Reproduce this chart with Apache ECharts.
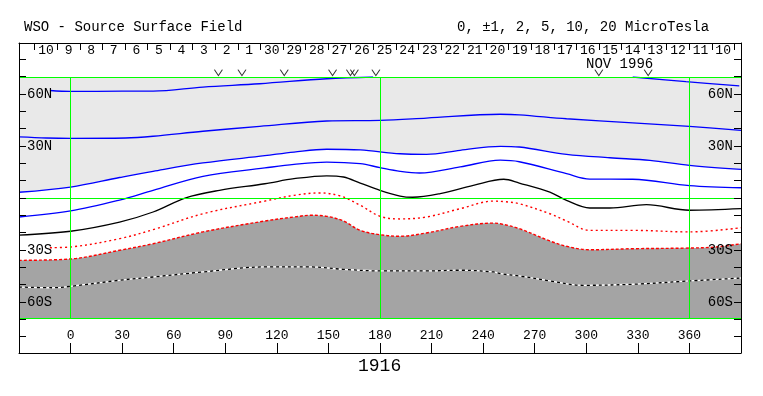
<!DOCTYPE html>
<html><head><meta charset="utf-8">
<script src="https://cdn.jsdelivr.net/npm/echarts@6/dist/echarts.min.js"></script>
<style>html,body{margin:0;padding:0;background:#fff}#c{width:763px;height:396px}</style>
</head><body><div id="c"></div><script>
const FONT = '"Liberation Mono", "DejaVu Sans Mono", monospace';

// Top date axis (Oct 10 .. Nov 10, 1996), day boundaries in Carrington longitude
const dayLabels = ['10','9','8','7','6','5','4','3','2','1','30','29','28','27','26','25','24','23','22','21','20','19','18','17','16','15','14','13','12','11','10'];
const dayTickStartLon = -20.86;
const degPerDay = 13.13;

// Observation markers (V) along the top of the map
const obsLon = [86.0, 99.7, 124.3, 152.4, 162.8, 165.1, 177.6, 307.3, 336.0];

// Latitude ticks and labels
const latTicks = [-80,-70,-60,-50,-40,-30,-20,-10,0,10,20,30,40,50,60,70,80];
const latLabelValues = [-60,-30,30,60];
const latLabelText = {'60':'60N','30':'30N','-30':'30S','-60':'60S'};

// Contour lines [Carrington longitude, latitude]
const blueLine1 = [[-12,62.2],[0,61.7],[30,61.8],[48,61.8],[77,64.2],[110,66.1],[149,69.0],[176,70.0],[250,'-'],[327,70.0],[358,67.3],[389,64.9]];
const blueLine2 = [[-30,35.4],[-14,34.8],[0,34.6],[32,34.8],[48,35.8],[77,38.7],[110,41.5],[149,44.6],[180,45.0],[207,46.3],[250,48.5],[261,48.2],[288.5,45.9],[327,43.5],[360,41.5],[390,39.2]];
const blueLine3 = [[-30,3.5],[0,6.5],[28.5,12.0],[48,15.6],[77,20.4],[113,24.6],[130,26.7],[149,28.3],[168.5,27.9],[191.7,25.7],[207,25.4],[226.6,27.7],[250,30.0],[261,29.6],[288.5,25.4],[313.7,23.4],[337,21.9],[360,19.0],[390,16.7]];
const blueLine4 = [[-30,-10.8],[0,-7.3],[28.5,-1.0],[48,4.6],[77,12.7],[113,17.5],[130,19.6],[149,20.9],[168.5,20.0],[180,17.7],[191.7,15.6],[203,14.6],[226.6,18.1],[250,22.0],[261,21.1],[288.5,14.2],[302,11.1],[327,11.0],[360,7.3],[390,6.1]];
const neutralLine = [[-30,-21.2],[0,-19.0],[28.5,-13.7],[48,-7.9],[67,0.3],[86.6,4.6],[113,8.4],[130,11.3],[149,13.0],[158.8,12.3],[168.5,8.8],[180,4.6],[191.7,1.3],[199,0.6],[215,2.7],[234.3,7.5],[252,11.0],[261,8.8],[278.8,3.6],[288.5,-1.2],[302,-5.6],[313.7,-5.6],[335,-3.7],[360,-6.9],[390,-6.0]];
const redLine1 = [[-12,-28.5],[0,-28.1],[28.5,-23.3],[48,-18.1],[77,-8.9],[113,-1.6],[130,1.7],[145,3.1],[157,1.3],[168.5,-4.0],[180,-10.4],[191.7,-11.9],[207,-10.8],[226.6,-6.0],[246,-1.6],[253,-2.0],[261,-3.1],[278.8,-8.9],[288.5,-13.1],[302,-18.5],[327,-18.5],[360,-19.4],[390,-17.0]];
const redLine2 = [[-30,-35.8],[0,-35.0],[28.5,-30.0],[48,-26.2],[77,-19.4],[113,-13.1],[130,-10.8],[139.4,-9.8],[149,-10.4],[158.8,-13.1],[168.5,-18.5],[180,-21.0],[191.7,-21.9],[207,-20.0],[226.6,-16.2],[246,-14.3],[250,-14.7],[261,-17.5],[278.8,-24.6],[288.5,-27.7],[302,-29.7],[327,-29.1],[360,-28.7],[375.6,-28.1],[390,-26.2]];
const southLine = [[-30,-51.2],[-10.5,-51.6],[0,-50.8],[28.5,-47.3],[48,-45.4],[77,-42.5],[113,-39.6],[139.4,-39.6],[158.8,-41.0],[180,-41.9],[207,-41.9],[226.6,-41.5],[246,-42.5],[250,-43.5],[261,-44.8],[278.8,-47.7],[298,-50.2],[327,-49.6],[360,-47.7],[390,-46.0]];

const dayTicks = [];
for (let j = 0; j <= dayLabels.length; j++) dayTicks.push(dayTickStartLon + j * degPerDay);
const dayCenters = dayLabels.map((_, j) => dayTickStartLon + (j + 0.5) * degPerDay);

const chart = echarts.init(document.getElementById('c'), null, {renderer: 'canvas'});
const txt = {fontFamily: FONT, color: '#000', fontWeight: 'normal'};
const AX_Z = 10;

function latAxis(pos) {
  return {
    type: 'value', gridIndex: 0, position: pos, min: -89.4, max: 89.4, z: AX_Z,
    axisLine: {show: true, onZero: false, lineStyle: {color: '#000', width: 1}},
    axisTick: {show: true, inside: true, length: 7, customValues: latTicks, lineStyle: {color: '#000'}},
    axisLabel: {show: true, inside: true, margin: 8, customValues: latLabelValues,
      formatter: v => latLabelText[String(Math.round(v))] || '', ...txt, fontSize: 14},
    splitLine: {show: false}
  };
}

const smoothK = 0.35;
function contour(data, color, width, type, extra) {
  return Object.assign({
    type: 'line', xAxisIndex: 2, yAxisIndex: 2, data: data, symbol: 'none',
    smooth: smoothK, connectNulls: false, silent: true, animation: false,
    lineStyle: {color: color, width: width, type: type}
  }, extra || {});
}

const option = {
  animation: false,
  backgroundColor: '#fff',
  title: [
    {text: 'WSO - Source Surface Field', left: 24, top: 20, padding: 0, textStyle: {...txt, fontSize: 14}},
    {text: '0, \u00b11, 2, 5, 10, 20 MicroTesla', left: 457, top: 20, padding: 0, textStyle: {...txt, fontSize: 14}},
    {text: 'NOV 1996', left: 586, top: 57, padding: 0, textStyle: {...txt, fontSize: 14}},
    {text: '1916', left: 358, top: 357, padding: 0, textStyle: {...txt, fontSize: 18}}
  ],
  grid: [
    {left: 19, right: 22, top: 43, bottom: 43, show: false},
    {left: 19, right: 22, top: 77, bottom: 78, show: false}
  ],
  xAxis: [
    {type: 'value', gridIndex: 0, position: 'bottom', min: -30, max: 390, interval: 30, z: AX_Z,
      axisLine: {show: true, onZero: false, lineStyle: {color: '#000', width: 1}},
      axisTick: {show: true, inside: true, length: 10, lineStyle: {color: '#000'}},
      axisLabel: {show: true, inside: true, margin: 11, showMinLabel: false, showMaxLabel: false, ...txt, fontSize: 13},
      splitLine: {show: false}},
    {type: 'value', gridIndex: 0, position: 'top', min: -30, max: 390, z: AX_Z,
      axisLine: {show: true, onZero: false, lineStyle: {color: '#000', width: 1}},
      axisTick: {show: true, inside: true, length: 7, customValues: dayTicks, lineStyle: {color: '#000'}},
      axisLabel: {show: true, inside: true, margin: 1, customValues: dayCenters,
        formatter: v => dayLabels[Math.round((v - dayTickStartLon) / degPerDay - 0.5)] || '', ...txt, fontSize: 13},
      splitLine: {show: false}},
    {type: 'value', gridIndex: 1, min: -30, max: 390, show: false}
  ],
  yAxis: [
    latAxis('left'),
    latAxis('right'),
    {type: 'value', gridIndex: 1, min: -69.07, max: 70.0, show: false}
  ],
  series: [
    contour(blueLine3, 'rgba(0,0,0,0)', 0, 'solid', {areaStyle: {color: '#e9e9e9', origin: 'end', opacity: 1}}),
    contour(redLine2, 'rgba(0,0,0,0)', 0, 'solid', {areaStyle: {color: '#a4a4a4', origin: 'start', opacity: 1}}),
    {type: 'line', xAxisIndex: 2, yAxisIndex: 2, data: [], clip: false, silent: true,
      markLine: {symbol: 'none', silent: true, label: {show: false}, animation: false,
        lineStyle: {color: '#00ff00', width: 1, type: 'solid'},
        data: [{xAxis: 0}, {xAxis: 180}, {xAxis: 360}, {yAxis: 0}, {yAxis: 70.0}, {yAxis: -69.07}]}},
    contour(blueLine1, '#0000ff', 1.3, 'solid'),
    contour(blueLine2, '#0000ff', 1.3, 'solid'),
    contour(blueLine3, '#0000ff', 1.3, 'solid'),
    contour(blueLine4, '#0000ff', 1.3, 'solid'),
    contour(neutralLine, '#000000', 1.3, 'solid'),
    contour(redLine1, '#ff0000', 1.4, [2, 3]),
    contour(redLine2, '#ff0000', 1.4, [3, 2]),
    contour(southLine, '#ffffff', 1.3, 'solid'),
    contour(southLine, '#000000', 1.3, [3, 3]),
    {type: 'scatter', xAxisIndex: 0, yAxisIndex: 0, data: obsLon.map(l => [l, 70.0]),
      symbol: 'path://M0,0 L4,6 L8,0', symbolSize: [8, 6], symbolOffset: [0, -4],
      silent: true, z: 12,
      itemStyle: {color: 'rgba(0,0,0,0)', borderColor: '#000', borderWidth: 1}}
  ]
};
chart.setOption(option);
</script></body></html>
